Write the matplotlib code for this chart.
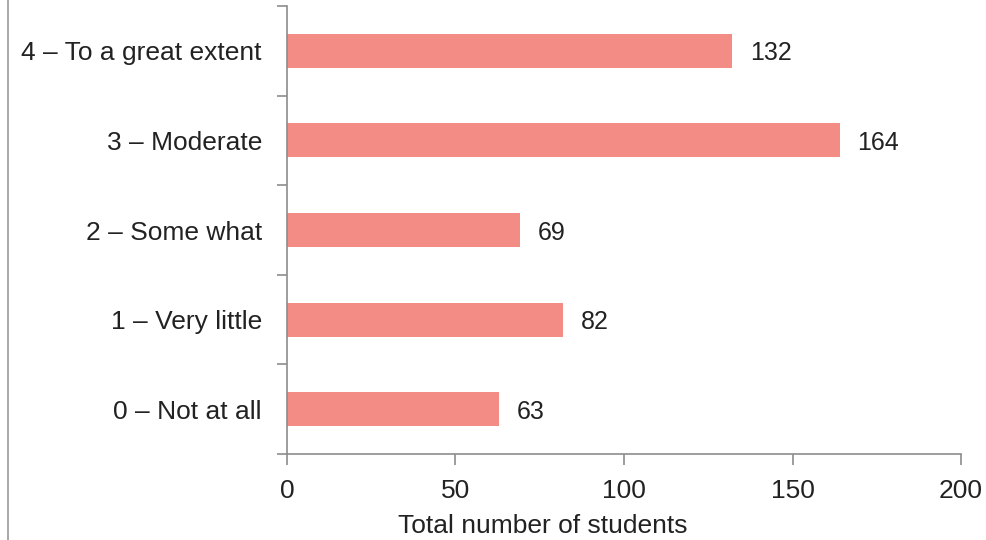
import matplotlib.pyplot as plt
from matplotlib.lines import Line2D
import numpy as np

# Data
categories = ["0 – Not at all", "1 – Very little", "2 – Some what",
              "3 – Moderate", "4 – To a great extent"]
students = [63, 82, 69, 164, 132]
xticks = [0, 50, 100, 150, 200]

plt.rcParams['font.family'] = ['Liberation Sans', 'DejaVu Sans']

fig = plt.figure(figsize=(9.87, 5.4), dpi=100)
ax = fig.add_axes([287 / 987, 1 - 454 / 540, (961 - 287) / 987, (454 - 6) / 540])

y = np.arange(len(categories))
ax.barh(y, students, height=0.38, color='#f28c84', zorder=2)

for yi, v in zip(y, students):
    ax.text(v + 5.3, yi, str(v), va='center_baseline', ha='left', fontsize=18, color='#222222')

ax.set_xlim(0, 200)
ax.set_ylim(-0.5, len(categories) - 0.5)
ax.set_xticks(xticks)
ax.set_xticklabels([str(t) for t in xticks])
ax.set_yticks(y)
ax.set_yticklabels(categories)
ax.set_yticks(np.arange(-0.5, len(categories)), minor=True)

gray = '#8c8c8c'
for s in ['top', 'right']:
    ax.spines[s].set_visible(False)
for s in ['left', 'bottom']:
    ax.spines[s].set_color(gray)
    ax.spines[s].set_linewidth(1.2)

ax.tick_params(axis='y', which='major', length=0, pad=18, labelsize=19, labelcolor='#222222')
ax.tick_params(axis='y', which='minor', length=7, width=1.2, color=gray, direction='out')
ax.tick_params(axis='x', which='major', length=8, width=1.2, color=gray, direction='out',
               pad=10, labelsize=19, labelcolor='#222222')

ax.set_xlabel('Total number of students', fontsize=19, color='#222222')
ax.xaxis.set_label_coords(0.38, -0.135)

# left border line of the original frame
fig.add_artist(Line2D([8 / 987, 8 / 987], [0, 1], color='#9a9a9a', linewidth=1.2))

fig.savefig('out.png', dpi=100)
